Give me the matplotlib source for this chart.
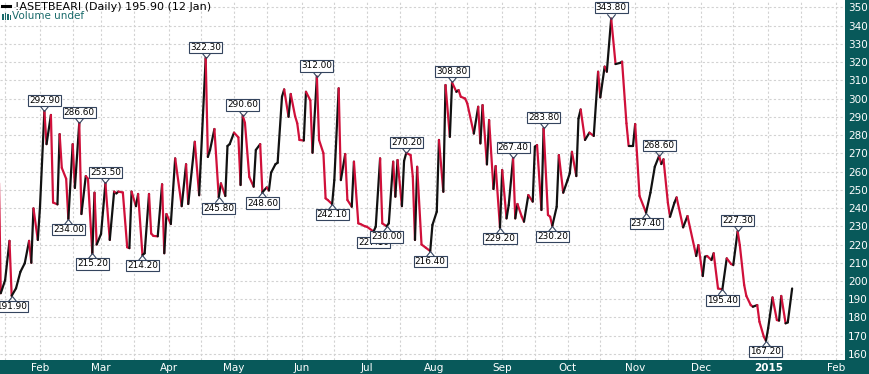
import numpy as np
import matplotlib
matplotlib.use('Agg')
import matplotlib.pyplot as plt
import matplotlib.dates as mdates
from matplotlib.collections import LineCollection
from matplotlib.lines import Line2D
from matplotlib.patches import Rectangle
from matplotlib.path import Path
from datetime import datetime

plt.rcParams['font.family'] = ['DejaVu Sans']

# 指数名称
symbol = '!ASETBEARI'

# 收盘价（从图上读取的转折点）
dates = [
    '2014-01-13', '2014-01-14', '2014-01-16', '2014-01-18', '2014-01-19', '2014-01-21', '2014-01-23',
    '2014-01-25', '2014-01-27', '2014-01-28', '2014-01-29', '2014-01-31', '2014-02-01', '2014-02-03',
    '2014-02-04', '2014-02-06', '2014-02-07', '2014-02-09', '2014-02-10', '2014-02-11', '2014-02-13',
    '2014-02-14', '2014-02-16', '2014-02-17', '2014-02-19', '2014-02-20', '2014-02-22', '2014-02-23',
    '2014-02-25', '2014-02-26', '2014-02-27', '2014-03-01', '2014-03-03', '2014-03-05', '2014-03-07',
    '2014-03-08', '2014-03-09', '2014-03-11', '2014-03-13', '2014-03-14', '2014-03-15', '2014-03-17',
    '2014-03-18', '2014-03-20', '2014-03-21', '2014-03-23', '2014-03-24', '2014-03-25', '2014-03-27',
    '2014-03-29', '2014-03-30', '2014-03-31', '2014-04-02', '2014-04-04', '2014-04-07', '2014-04-09',
    '2014-04-10', '2014-04-13', '2014-04-15', '2014-04-18', '2014-04-19', '2014-04-20', '2014-04-22',
    '2014-04-24', '2014-04-25', '2014-04-27', '2014-04-28', '2014-04-29', '2014-05-01', '2014-05-03',
    '2014-05-04', '2014-05-05', '2014-05-06', '2014-05-08', '2014-05-10', '2014-05-11', '2014-05-13',
    '2014-05-14', '2014-05-16', '2014-05-17', '2014-05-18', '2014-05-20', '2014-05-21', '2014-05-23',
    '2014-05-24', '2014-05-26', '2014-05-27', '2014-05-29', '2014-05-30', '2014-05-31', '2014-06-02',
    '2014-06-03', '2014-06-05', '2014-06-06', '2014-06-08', '2014-06-09', '2014-06-11', '2014-06-12',
    '2014-06-13', '2014-06-15', '2014-06-16', '2014-06-18', '2014-06-19', '2014-06-21', '2014-06-22',
    '2014-06-24', '2014-06-25', '2014-06-27', '2014-06-28', '2014-06-30', '2014-07-01', '2014-07-04',
    '2014-07-05', '2014-07-07', '2014-07-08', '2014-07-10', '2014-07-11', '2014-07-13', '2014-07-14',
    '2014-07-15', '2014-07-17', '2014-07-18', '2014-07-19', '2014-07-21', '2014-07-22', '2014-07-23',
    '2014-07-24', '2014-07-26', '2014-07-28', '2014-07-30', '2014-07-31', '2014-08-02', '2014-08-03',
    '2014-08-05', '2014-08-06', '2014-08-08', '2014-08-09', '2014-08-11', '2014-08-12', '2014-08-13',
    '2014-08-15', '2014-08-16', '2014-08-19', '2014-08-21', '2014-08-22', '2014-08-23', '2014-08-25',
    '2014-08-26', '2014-08-28', '2014-08-29', '2014-08-31', '2014-09-01', '2014-09-03', '2014-09-04',
    '2014-09-06', '2014-09-07', '2014-09-08', '2014-09-10', '2014-09-11', '2014-09-13', '2014-09-15',
    '2014-09-16', '2014-09-17', '2014-09-19', '2014-09-20', '2014-09-22', '2014-09-23', '2014-09-24',
    '2014-09-26', '2014-09-27', '2014-09-29', '2014-10-01', '2014-10-02', '2014-10-03', '2014-10-05',
    '2014-10-06', '2014-10-07', '2014-10-09', '2014-10-11', '2014-10-13', '2014-10-15', '2014-10-16',
    '2014-10-18', '2014-10-19', '2014-10-21', '2014-10-23', '2014-10-25', '2014-10-26', '2014-10-28',
    '2014-10-29', '2014-10-31', '2014-11-01', '2014-11-03', '2014-11-06', '2014-11-08', '2014-11-10',
    '2014-11-12', '2014-11-13', '2014-11-14', '2014-11-16', '2014-11-17', '2014-11-19', '2014-11-20',
    '2014-11-23', '2014-11-25', '2014-11-29', '2014-11-30', '2014-12-02', '2014-12-03', '2014-12-04',
    '2014-12-06', '2014-12-07', '2014-12-09', '2014-12-11', '2014-12-13', '2014-12-15', '2014-12-16',
    '2014-12-18', '2014-12-19', '2014-12-21', '2014-12-22', '2014-12-24', '2014-12-25', '2014-12-27',
    '2014-12-28', '2014-12-30', '2014-12-31', '2015-01-01', '2015-01-03', '2015-01-05', '2015-01-06',
    '2015-01-07', '2015-01-09', '2015-01-10', '2015-01-12',
]
closes = [
    268.0, 193.3, 200.5, 222.0, 191.9, 196.0, 205.0,
    209.7, 222.0, 210.0, 239.8, 222.5, 240.7, 292.9,
    275.0, 291.0, 243.0, 242.0, 280.5, 262.0, 256.0,
    234.0, 275.0, 251.0, 286.6, 236.7, 257.5, 256.0,
    215.2, 248.4, 220.0, 225.8, 253.5, 222.5, 249.0,
    248.0, 249.0, 248.5, 218.5, 218.0, 249.0, 241.0,
    247.7, 214.2, 215.2, 247.7, 226.0, 224.7, 224.5,
    253.0, 215.2, 236.7, 231.2, 267.2, 241.0, 264.0,
    242.2, 276.3, 247.0, 322.3, 268.0, 271.8, 283.3,
    245.8, 253.5, 246.6, 274.0, 275.0, 281.3, 278.7,
    252.6, 290.6, 286.7, 257.0, 251.7, 271.8, 275.0,
    248.6, 251.3, 249.6, 259.4, 264.0, 264.8, 301.0,
    305.0, 290.0, 302.5, 290.4, 286.4, 277.3, 277.0,
    303.7, 299.0, 270.3, 312.0, 277.3, 270.0, 245.3,
    244.4, 242.1, 255.3, 305.6, 255.3, 269.6, 244.4,
    240.7, 265.4, 231.6, 231.2, 230.0, 229.7, 227.1,
    229.8, 267.2, 231.6, 230.0, 231.6, 265.4, 246.2,
    266.3, 241.0, 265.8, 270.2, 269.0, 257.2, 222.5,
    262.6, 220.0, 218.2, 216.4, 230.7, 238.0, 277.3,
    248.9, 307.4, 279.0, 308.8, 303.7, 304.6, 301.0,
    300.0, 297.3, 280.8, 295.5, 275.4, 296.4, 263.9,
    288.2, 250.4, 263.0, 229.2, 260.8, 234.3, 241.6,
    267.4, 234.3, 242.2, 235.2, 232.5, 247.1, 243.5,
    273.6, 274.5, 238.9, 283.8, 236.2, 235.2, 230.2,
    240.7, 269.0, 248.4, 255.3, 259.0, 270.8, 257.5,
    289.1, 294.0, 277.3, 281.3, 279.5, 314.7, 300.6,
    317.5, 314.7, 343.8, 318.9, 319.5, 320.2, 286.4,
    274.0, 274.0, 286.0, 246.6, 237.4, 248.4, 262.6,
    268.6, 264.1, 266.7, 242.9, 235.2, 242.9, 245.8,
    229.4, 235.6, 213.7, 219.7, 202.7, 213.3, 213.7,
    211.5, 215.2, 195.9, 195.4, 212.4, 209.3, 208.8,
    227.3, 219.7, 197.8, 191.8, 186.8, 185.9, 186.8,
    177.7, 169.5, 167.2, 174.1, 191.0, 178.6, 178.3,
    191.8, 176.8, 177.3, 195.9,
]

# 高低点标注
label_dates = [
    '2014-01-19', '2014-02-03', '2014-02-14', '2014-02-19', '2014-02-25', '2014-03-03', '2014-03-20',
    '2014-04-18', '2014-04-24', '2014-05-05', '2014-05-14', '2014-06-08', '2014-06-15', '2014-07-04',
    '2014-07-10', '2014-07-19', '2014-07-30', '2014-08-09', '2014-08-31', '2014-09-06', '2014-09-20',
    '2014-09-24', '2014-10-21', '2014-11-06', '2014-11-12', '2014-12-11', '2014-12-18', '2014-12-31',
]
label_above = [
    False, True, False, True, False, True, False,
    True, False, True, False, True, False, False,
    False, True, False, True, False, True, True,
    False, True, False, True, False, True, False,
]

# 坐标轴刻度
tick_dates = ['2014-02-01', '2014-03-01', '2014-04-01', '2014-05-01', '2014-06-01', '2014-07-01',
              '2014-08-01', '2014-09-01', '2014-10-01', '2014-11-01', '2014-12-01', '2015-01-01',
              '2015-02-01']
tick_labels = ['Feb', 'Mar', 'Apr', 'May', 'Jun', 'Jul', 'Aug', 'Sep', 'Oct', 'Nov', 'Dec', '2015', 'Feb']
y_ticks = list(range(160, 351, 10))

teal = '#08595a'
red = '#d0103a'
box_ec = '#34445e'

fig = plt.figure(figsize=(8.69, 3.74), dpi=100, facecolor=teal)
ax = fig.add_axes([0, 14 / 374, 845 / 869, 360 / 374])
ax.set_facecolor('white')

x = mdates.date2num(np.array(dates, dtype='datetime64[D]'))
y = np.array(closes)

# 下跌画红色，上涨画黑色
pts = np.column_stack([x, y])
segs = np.stack([pts[:-1], pts[1:]], axis=1)
cols = [red if b < a else '#111111' for a, b in zip(y[:-1], y[1:])]
lc = LineCollection(segs, colors=cols, linewidths=1.6, capstyle='round', joinstyle='round', zorder=3)
ax.add_collection(lc)

ax.set_xlim(mdates.date2num(np.datetime64('2014-01-13T15:36')),
            mdates.date2num(np.datetime64('2015-02-05T06:00')))
ax.set_ylim(156.7, 354)

ax.set_xticks(mdates.date2num(np.array(tick_dates, dtype='datetime64[D]')))
ax.set_xticklabels(tick_labels)
ax.xaxis.set_minor_locator(mdates.DayLocator(bymonthday=16))
ax.set_yticks(y_ticks)
ax.yaxis.tick_right()
ax.grid(True, which='both', color='#d2d2d2', lw=0.8, ls=(0, (2, 2)))
ax.set_axisbelow(True)
ax.tick_params(axis='both', which='both', length=0, labelcolor='white', labelsize=7.5)
ax.tick_params(axis='y', pad=2)
ax.tick_params(axis='x', pad=2)
for t in ax.get_xticklabels():
    if t.get_text() == '2015':
        t.set_fontweight('bold')
for s in ax.spines.values():
    s.set_visible(False)

# 标注框和小尖角
v_up = Path([(-0.8, 1), (0, 0), (0.8, 1)], [Path.MOVETO, Path.LINETO, Path.LINETO])
v_down = Path([(-0.8, -1), (0, 0), (0.8, -1)], [Path.MOVETO, Path.LINETO, Path.LINETO])
for d, above in zip(label_dates, label_above):
    i = dates.index(d)
    sgn = 1 if above else -1
    ax.plot(x[i], y[i], marker=v_up if above else v_down, ms=7.5, mfc='none', mec=box_ec,
            mew=0.8, ls='none', zorder=4, clip_on=False)
    ax.annotate(f'{y[i]:.2f}', xy=(x[i], y[i]), xytext=(0, 7.7 * sgn), textcoords='offset points',
                ha='center', va='center', fontsize=6.4, color='black', zorder=5, annotation_clip=False,
                bbox=dict(boxstyle='square,pad=0.12', fc='white', ec=box_ec, lw=0.8))

# 左上角标题
last = datetime.strptime(dates[-1], '%Y-%m-%d')
fig.add_artist(Line2D([2 / 869, 10 / 869], [1 - 6 / 374] * 2, transform=fig.transFigure,
                      color='black', lw=2.2))
fig.text(15 / 869, 1 - 7 / 374, f'{symbol} (Daily) {closes[-1]:.2f} ({last.day} {last:%b})',
         fontsize=8, va='center', ha='left', color='black')
for bx, bh in zip([2, 4.5, 7, 9.5], [5, 7, 6, 4]):
    fig.add_artist(Rectangle((bx / 869, 1 - 19.5 / 374), 1.6 / 869, bh / 374,
                             transform=fig.transFigure, color='#1a6b6b', lw=0))
fig.text(12 / 869, 1 - 16 / 374, 'Volume undef', fontsize=7.5, va='center', ha='left', color='#1a6b6b')

fig.savefig('out.png', dpi=100, facecolor=fig.get_facecolor())
